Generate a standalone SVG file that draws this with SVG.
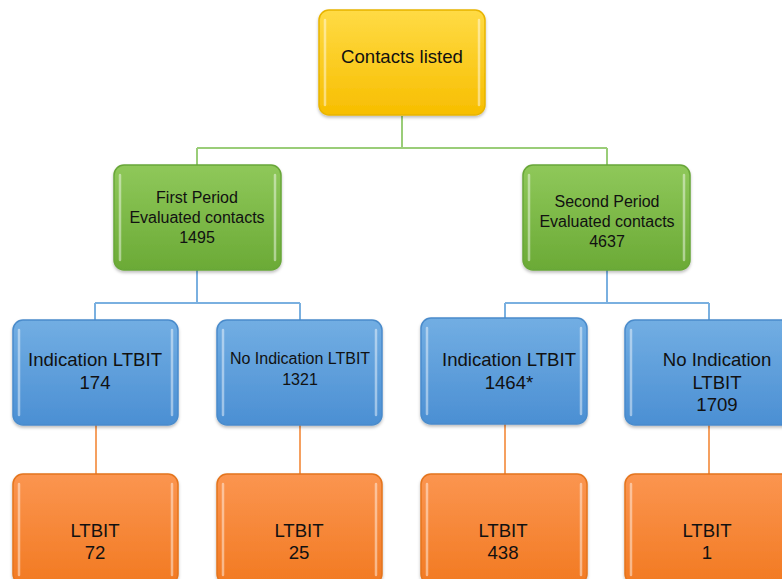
<svg xmlns="http://www.w3.org/2000/svg" width="782" height="579" viewBox="0 0 782 579">
<defs>
<linearGradient id="gy" x1="0" y1="0" x2="0" y2="1"><stop offset="0" stop-color="#FFDB45"/><stop offset="1" stop-color="#F7BE00"/></linearGradient>
<linearGradient id="gg" x1="0" y1="0" x2="0" y2="1"><stop offset="0" stop-color="#8FC85A"/><stop offset="1" stop-color="#6BAA36"/></linearGradient>
<linearGradient id="gb" x1="0" y1="0" x2="0" y2="1"><stop offset="0" stop-color="#72AEE3"/><stop offset="1" stop-color="#4B8FD3"/></linearGradient>
<linearGradient id="go" x1="0" y1="0" x2="0" y2="1"><stop offset="0" stop-color="#FB9550"/><stop offset="1" stop-color="#F27A22"/></linearGradient>
<filter id="sh" x="-10%" y="-10%" width="120%" height="125%"><feDropShadow dx="0" dy="2" stdDeviation="1.5" flood-color="#000" flood-opacity="0.25"/></filter>
</defs>
<style>
.box{filter:url(#sh);stroke-width:1.5}
.y{fill:url(#gy);stroke:#E8B400}
.g{fill:url(#gg);stroke:#68A638}
.b{fill:url(#gb);stroke:#4A8BCB}
.o{fill:url(#go);stroke:#E4741E}
.hl{stroke:#FFFFFF;stroke-opacity:0.45;stroke-width:2.5;stroke-linecap:round;fill:none}
text{font-family:"Liberation Sans",Arial,sans-serif;fill:#111;text-anchor:middle}
.t18{font-size:18.6px}
.t14{font-size:16px}
.cg{stroke:#9ACD78;stroke-width:2;fill:none}
.cb{stroke:#7AB0E0;stroke-width:2;fill:none}
.co{stroke:#F5A060;stroke-width:2;fill:none}
</style>
<g id="connectors">
<path class="cg" d="M402 116V148M197 148H607M197 148V165M607 148V165"/>
<path class="cb" d="M197 270V303M95 303H300M95 303V320M300 303V320"/>
<path class="cb" d="M607 270V303M505 303H709M505 303V318M709 303V320"/>
<path class="co" d="M96 425V474M300 425V474M505 424V474M709 425V474"/>
</g>
<g id="contacts">
<rect class="box y" x="319" y="10" width="166" height="105" rx="10"/>
<path class="hl" d="M325 20V105M479 20V105"/>
<text class="t18" x="402" y="63">Contacts listed</text>
</g>
<g id="first-period">
<rect class="box g" x="114" y="165" width="167" height="105" rx="10"/>
<path class="hl" d="M120 175V260M275 175V260"/>
<text class="t14" x="197" y="203">First Period</text>
<text class="t14" x="197" y="223">Evaluated contacts</text>
<text class="t14" x="197" y="243">1495</text>
</g>
<g id="second-period">
<rect class="box g" x="523" y="165" width="167" height="105" rx="10"/>
<path class="hl" d="M529 175V260M684 175V260"/>
<text class="t14" x="607" y="207">Second Period</text>
<text class="t14" x="607" y="227">Evaluated contacts</text>
<text class="t14" x="607" y="247">4637</text>
</g>
<g id="ind1">
<rect class="box b" x="13" y="320" width="165" height="105" rx="10"/>
<path class="hl" d="M19 330V415M172 330V415"/>
<text class="t18" x="95" y="366">Indication LTBIT</text>
<text class="t18" x="95" y="389">174</text>
</g>
<g id="noind1">
<rect class="box b" x="217" y="320" width="165" height="105" rx="10"/>
<path class="hl" d="M223 330V415M376 330V415"/>
<text class="t14" x="300" y="364">No Indication LTBIT</text>
<text class="t14" x="300" y="385">1321</text>
</g>
<g id="ind2">
<rect class="box b" x="421" y="318" width="166" height="106" rx="10"/>
<path class="hl" d="M427 328V414M581 328V414"/>
<text class="t18" x="509" y="366">Indication LTBIT</text>
<text class="t18" x="509" y="389">1464*</text>
</g>
<g id="noind2">
<rect class="box b" x="625" y="320" width="175" height="105" rx="10"/>
<path class="hl" d="M631 330V415"/>
<text class="t18" x="717" y="366">No Indication</text>
<text class="t18" x="717" y="389">LTBIT</text>
<text class="t18" x="717" y="411">1709</text>
</g>
<g id="ltbit1">
<rect class="box o" x="13" y="474" width="165" height="110" rx="10"/>
<path class="hl" d="M19 484V575M172 484V575"/>
<text class="t18" x="95" y="537">LTBIT</text>
<text class="t18" x="95" y="559">72</text>
</g>
<g id="ltbit2">
<rect class="box o" x="217" y="474" width="165" height="110" rx="10"/>
<path class="hl" d="M223 484V575M376 484V575"/>
<text class="t18" x="299" y="537">LTBIT</text>
<text class="t18" x="299" y="559">25</text>
</g>
<g id="ltbit3">
<rect class="box o" x="421" y="474" width="166" height="110" rx="10"/>
<path class="hl" d="M427 484V575M581 484V575"/>
<text class="t18" x="503" y="537">LTBIT</text>
<text class="t18" x="503" y="559">438</text>
</g>
<g id="ltbit4">
<rect class="box o" x="625" y="474" width="175" height="110" rx="10"/>
<path class="hl" d="M631 484V575"/>
<text class="t18" x="707" y="537">LTBIT</text>
<text class="t18" x="707" y="559">1</text>
</g>
</svg>
